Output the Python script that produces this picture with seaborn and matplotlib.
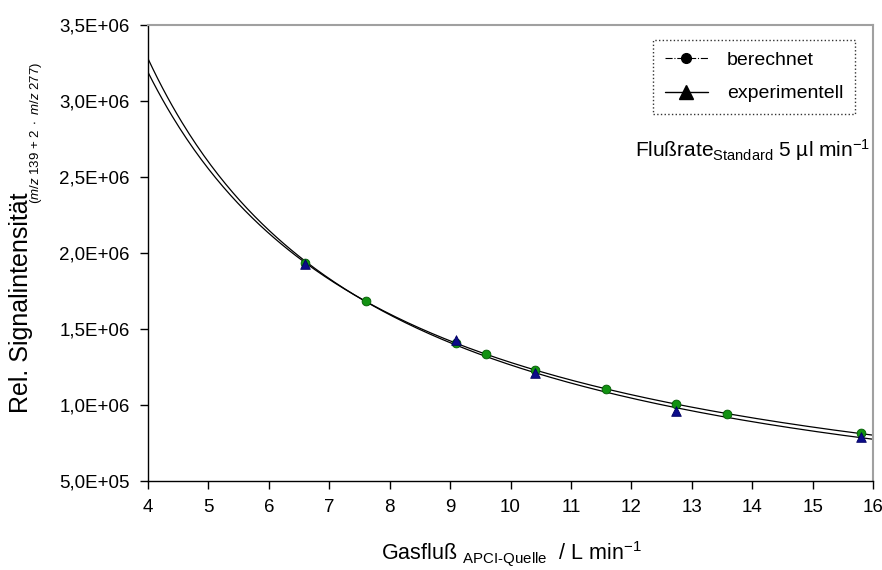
import numpy as np
import pandas as pd
import matplotlib
matplotlib.use("Agg")
import matplotlib.pyplot as plt
import seaborn as sns
from matplotlib.lines import Line2D
from matplotlib.ticker import FuncFormatter

# ---- data ----
x_calc = [6.60, 7.60, 9.10, 9.59, 10.40, 11.58, 12.74, 13.59, 15.80]
y_calc = [1.936e6, 1.686e6, 1.406e6, 1.336e6, 1.230e6, 1.103e6, 1.007e6, 0.941e6, 0.814e6]
x_exp = [6.60, 9.10, 10.40, 12.74, 15.80]
y_exp = [1.930e6, 1.428e6, 1.209e6, 0.963e6, 0.791e6]
x_ticks = [4, 5, 6, 7, 8, 9, 10, 11, 12, 13, 14, 15, 16]
y_ticks = [5e5, 1e6, 1.5e6, 2e6, 2.5e6, 3e6, 3.5e6]

sns.set_theme(style="white")
plt.rcParams['font.family'] = ['Liberation Sans', 'DejaVu Sans']
plt.rcParams['mathtext.fontset'] = 'custom'
plt.rcParams['mathtext.rm'] = 'Liberation Sans'
plt.rcParams['mathtext.it'] = 'Liberation Sans:italic'
plt.rcParams['mathtext.bf'] = 'Liberation Sans:bold'
for k in ['text.color', 'axes.labelcolor', 'xtick.color', 'ytick.color']:
    plt.rcParams[k] = 'black'

fig = plt.figure(figsize=(8.82, 5.70), dpi=100)
ax = fig.add_axes([148/882, 1-481/570, (873-148)/882, (481-25)/570])

# power-law trend lines (fit in log space, like a spreadsheet power trendline)
xx = np.linspace(4, 16, 300)
for xs, ys in [(x_calc, y_calc), (x_exp, y_exp)]:
    b, lna = np.polyfit(np.log(xs), np.log(ys), 1)
    fit = pd.DataFrame({"x": xx, "y": np.exp(lna) * xx**b})
    sns.lineplot(data=fit, x="x", y="y", ax=ax, color="black", lw=0.9, zorder=2)

df_c = pd.DataFrame({"x": x_calc, "y": y_calc})
df_e = pd.DataFrame({"x": x_exp, "y": y_exp})
sns.scatterplot(data=df_c, x="x", y="y", ax=ax, marker="o", s=40,
                color="#129212", edgecolor="#005a00", linewidth=0.6, zorder=3)
sns.scatterplot(data=df_e, x="x", y="y", ax=ax, marker="^", s=48,
                color="#0c0c8a", edgecolor="#000060", linewidth=0.6, zorder=4)

ax.set_xlim(4, 16)
ax.set_ylim(5e5, 3.5e6)
ax.set_xticks(x_ticks)
ax.set_yticks(y_ticks)
ax.yaxis.set_major_formatter(FuncFormatter(
    lambda v, p: ("%.1fE+%02d" % (v / 10**int(np.floor(np.log10(v))), int(np.floor(np.log10(v))))).replace(".", ",")))
ax.tick_params(axis="both", direction="out", length=6, width=1, color="black",
               labelsize=13.5, bottom=True, left=True, pad=7)
for s in ["left", "bottom"]:
    ax.spines[s].set_color("black")
    ax.spines[s].set_linewidth(1.0)
for s in ["top", "right"]:
    ax.spines[s].set_color("#a0a0a0")
    ax.spines[s].set_linewidth(1.5)

ax.set_xlabel("")
ax.set_ylabel("")
fig.text(511/882, 1-553/570,
         r"Gasfluß $_{\mathrm{APCI\text{-}Quelle}}$  / L min$^{\mathrm{-1}}$",
         ha="center", va="center", fontsize=15.5)
fig.text(21/882, 1-303/570, "Rel. Signalintensität",
         rotation=90, ha="center", va="center", fontsize=18)
fig.text(36/882, 1-133/570,
         r"$(\mathit{m/z}\ \mathrm{139}\ \mathrm{+}\ \mathrm{2}\ \bullet\ \mathit{m/z}\ \mathrm{277})$",
         rotation=90, ha="center", va="center", fontsize=9.5)

ax.text(753/882, 1-150/570,
        r"Flußrate$_{\mathrm{Standard}}$ 5 µl min$^{\mathrm{-1}}$",
        transform=fig.transFigure, ha="center", va="center", fontsize=15)

handles = [
    Line2D([0], [0], color="black", lw=0.8, ls="-.", marker="o", markersize=7,
           markerfacecolor="black", markeredgecolor="black"),
    Line2D([0], [0], color="black", lw=1.0, ls="-", marker="^", markersize=10,
           markerfacecolor="black", markeredgecolor="black"),
]
leg = ax.legend(handles, ["berechnet", "experimentell"], loc="upper right",
                bbox_to_anchor=(855/882, 1-40/570), bbox_transform=fig.transFigure,
                fontsize=14, frameon=True, fancybox=False, borderpad=0.6,
                borderaxespad=0, handlelength=2.2, labelspacing=0.8,
                handletextpad=1.0)
fr = leg.get_frame()
fr.set_edgecolor("black")
fr.set_linestyle(":")
fr.set_linewidth(1.0)

fig.savefig("out.png", dpi=100)
